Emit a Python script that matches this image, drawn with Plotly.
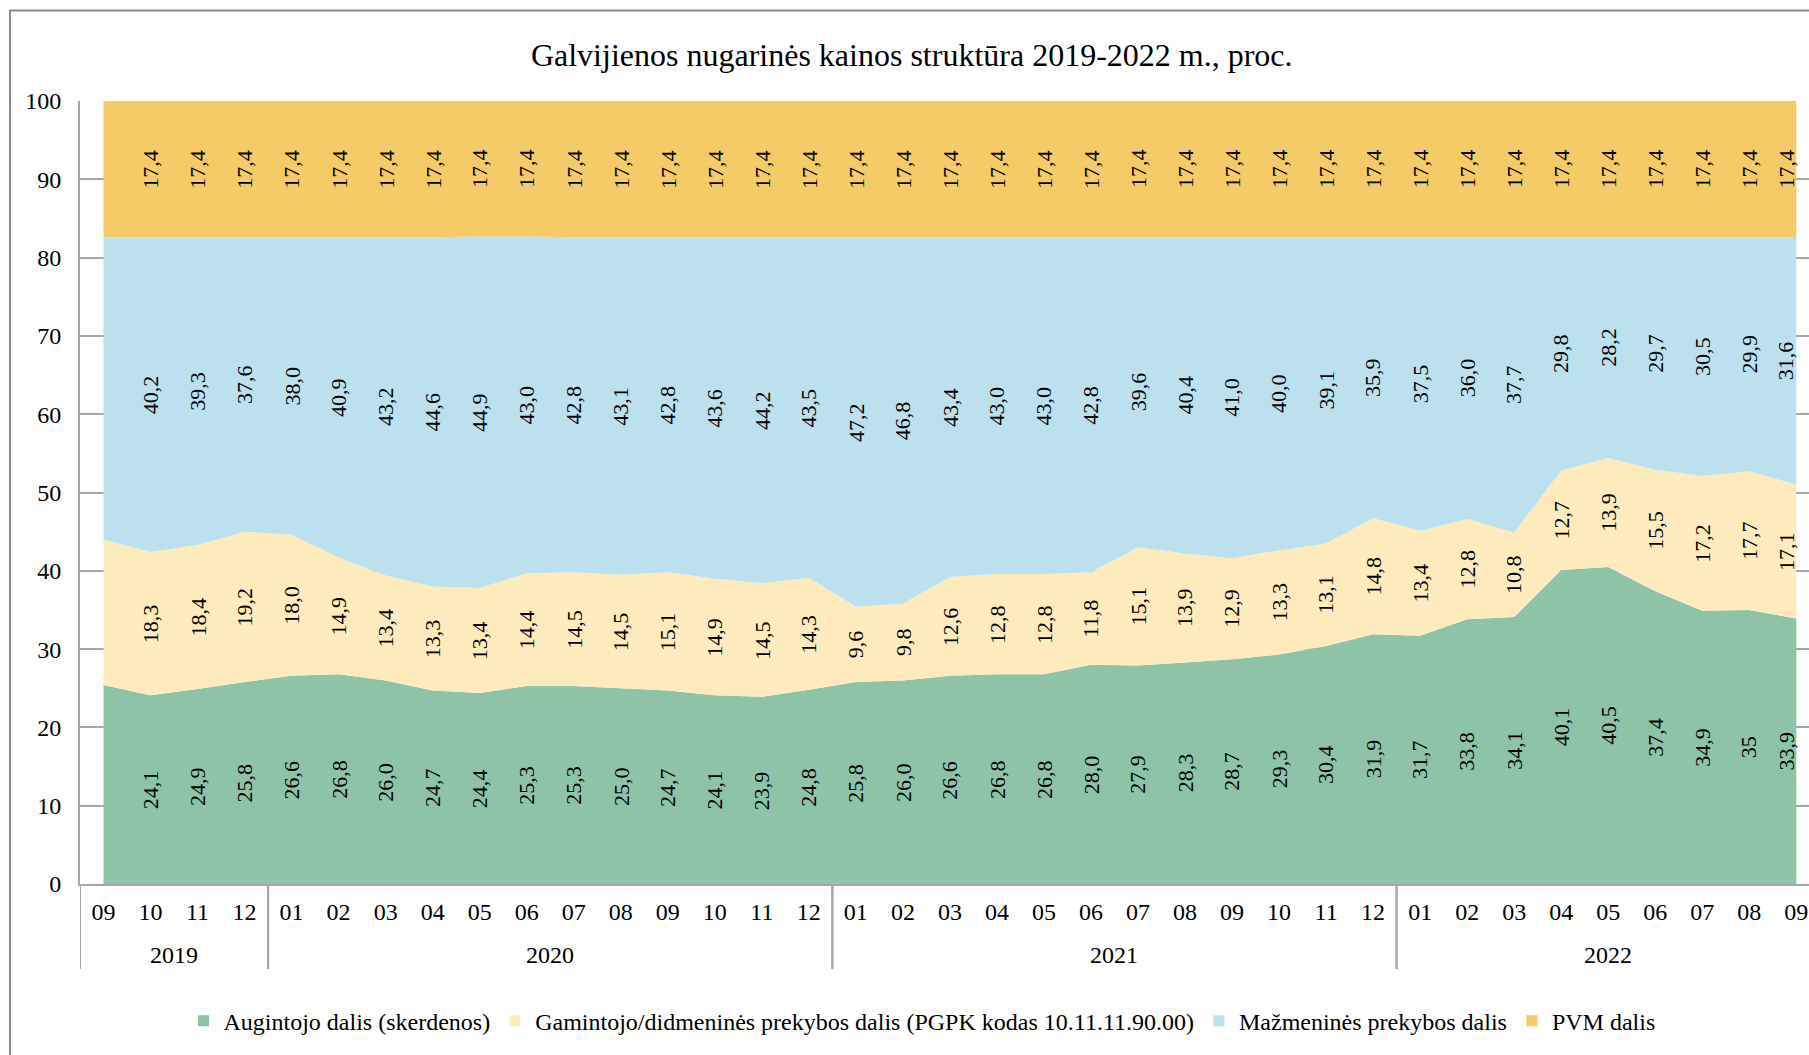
import plotly.graph_objects as go

# ---- data ----
years = ["2019", "2019", "2019", "2019",
         "2020", "2020", "2020", "2020", "2020", "2020", "2020", "2020", "2020", "2020", "2020", "2020",
         "2021", "2021", "2021", "2021", "2021", "2021", "2021", "2021", "2021", "2021", "2021", "2021",
         "2022", "2022", "2022", "2022", "2022", "2022", "2022", "2022", "2022"]
months = ["09", "10", "11", "12",
          "01", "02", "03", "04", "05", "06", "07", "08", "09", "10", "11", "12",
          "01", "02", "03", "04", "05", "06", "07", "08", "09", "10", "11", "12",
          "01", "02", "03", "04", "05", "06", "07", "08", "09"]

augintojo = [25.4, 24.1, 24.9, 25.8,
             26.6, 26.8, 26.0, 24.7, 24.4, 25.3, 25.3, 25.0, 24.7, 24.1, 23.9, 24.8,
             25.8, 26.0, 26.6, 26.8, 26.8, 28.0, 27.9, 28.3, 28.7, 29.3, 30.4, 31.9,
             31.7, 33.8, 34.1, 40.1, 40.5, 37.4, 34.9, 35, 33.9]
gamintojo = [18.6, 18.3, 18.4, 19.2,
             18.0, 14.9, 13.4, 13.3, 13.4, 14.4, 14.5, 14.5, 15.1, 14.9, 14.5, 14.3,
             9.6, 9.8, 12.6, 12.8, 12.8, 11.8, 15.1, 13.9, 12.9, 13.3, 13.1, 14.8,
             13.4, 12.8, 10.8, 12.7, 13.9, 15.5, 17.2, 17.7, 17.1]
mazmenines = [38.6, 40.2, 39.3, 37.6,
              38.0, 40.9, 43.2, 44.6, 44.9, 43.0, 42.8, 43.1, 42.8, 43.6, 44.2, 43.5,
              47.2, 46.8, 43.4, 43.0, 43.0, 42.8, 39.6, 40.4, 41.0, 40.0, 39.1, 35.9,
              37.5, 36.0, 37.7, 29.8, 28.2, 29.7, 30.5, 29.9, 31.6]
pvm = [17.4, 17.4, 17.4, 17.4,
       17.4, 17.4, 17.4, 17.4, 17.4, 17.4, 17.4, 17.4, 17.4, 17.4, 17.4, 17.4,
       17.4, 17.4, 17.4, 17.4, 17.4, 17.4, 17.4, 17.4, 17.4, 17.4, 17.4, 17.4,
       17.4, 17.4, 17.4, 17.4, 17.4, 17.4, 17.4, 17.4, 17.4]

series_names = ["Augintojo dalis (skerdenos)",
                "Gamintojo/didmeninės prekybos dalis (PGPK kodas 10.11.11.90.00)",
                "Mažmeninės prekybos dalis",
                "PVM dalis"]
series_values = [augintojo, gamintojo, mazmenines, pvm]
colors = ["#8EC3A7", "#FDEBBE", "#BDE0EF", "#F4CB66"]

title_text = "Galvijienos nugarinės kainos struktūra 2019-2022 m., proc."
label_start = 1  # first month carries no data labels in the original

FONT = "Liberation Serif, Times New Roman, serif"
GREY = "#A6A6A6"

idx = list(range(len(months)))

fig = go.Figure()

for name, vals, col in zip(series_names, series_values, colors):
    fig.add_trace(go.Scatter(
        x=idx, y=vals, name=name, stackgroup="one", mode="none",
        fillcolor=col, line=dict(width=0), showlegend=False, hoverinfo="skip"))

# legend entries with small square markers
for name, col in zip(series_names, colors):
    fig.add_trace(go.Scatter(
        x=[idx[0]], y=[None], name=name, mode="markers",
        marker=dict(symbol="square", size=11, color=col), showlegend=True))

annotations = []
# data labels, centred in each band (last column nudged inside the plot edge)
n = len(months)
base = [0.0] * n
for vals in series_values:
    for i in range(n):
        if i >= label_start:
            annotations.append(dict(
                x=idx[i], y=base[i] + vals[i] / 2, xref="x", yref="y",
                text=str(vals[i]).replace(".", ","), showarrow=False,
                xshift=-10 if i == n - 1 else 0,
                textangle=-90, font=dict(family=FONT, size=22, color="#000000")))
        base[i] += vals[i]

# year groups: centred labels and divider lines
groups = []
for i, yv in enumerate(years):
    if not groups or groups[-1][0] != yv:
        groups.append([yv, i, i])
    else:
        groups[-1][2] = i

shapes = []
for yv, first, last in groups:
    annotations.append(dict(
        x=(first + last) / 2, y=-0.0907, xref="x", yref="paper",
        text=yv, showarrow=False, yanchor="middle",
        font=dict(family=FONT, size=24, color="#000000")))
    for b in (first - 0.5, last + 0.5):
        shapes.append(dict(type="line", xref="x", yref="paper",
                           x0=b, x1=b, y0=0, y1=-0.1086,
                           line=dict(color=GREY, width=2)))

# outer chart border (cropped on the right and bottom like the original)
shapes.append(dict(type="rect", xref="paper", yref="paper",
                   x0=-0.0405, x1=1.02, y0=-0.25, y1=1.1155,
                   line=dict(color="#8C8C8C", width=2), fillcolor="rgba(0,0,0,0)", layer="below"))

fig.update_layout(
    width=1809, height=1055,
    margin=dict(l=80, r=0, t=101, b=171, autoexpand=False),
    paper_bgcolor="white", plot_bgcolor="white",
    font=dict(family=FONT, size=24, color="#000000"),
    title=dict(text=title_text, x=0.504, xanchor="center", xref="container",
               y=0.948, yanchor="middle", yref="container",
               font=dict(family=FONT, size=32, color="#000000")),
    legend=dict(orientation="h", x=0.487, xanchor="center", y=-0.175, yanchor="middle",
                traceorder="normal",
                font=dict(family=FONT, size=24, color="#000000"),
                itemwidth=30, bgcolor="rgba(0,0,0,0)"),
    annotations=annotations,
    shapes=shapes,
    showlegend=True,
)

fig.update_xaxes(
    range=[-0.5, 36.27], tickmode="array", tickvals=idx, ticktext=months,
    showgrid=False, showline=True, linecolor=GREY, linewidth=2, zeroline=False,
    ticks="", ticklabelstandoff=5,
    tickfont=dict(family=FONT, size=24, color="#000000"), automargin=False)

fig.update_yaxes(
    range=[0, 100], dtick=10, tick0=0,
    showgrid=True, gridcolor=GREY, gridwidth=2,
    showline=True, linecolor=GREY, linewidth=2, ticks="",
    zeroline=False, ticklabelstandoff=12,
    tickfont=dict(family=FONT, size=24, color="#000000"), automargin=False)

fig.write_html("out.html",
               config={"displayModeBar": False},
               post_script="document.body.style.margin='0';document.body.style.overflow='hidden';")
